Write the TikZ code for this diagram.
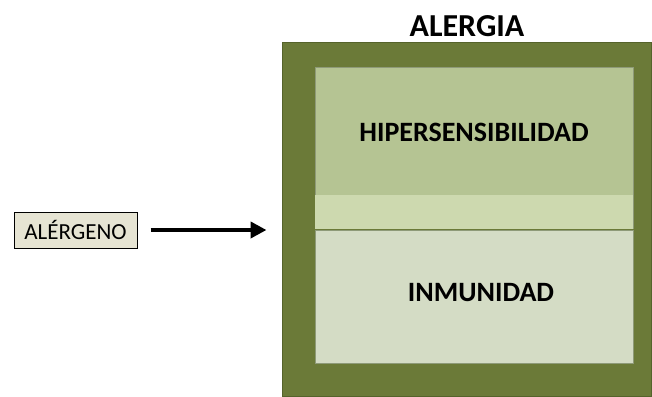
\documentclass[tikz,border=0pt]{standalone}
\usepackage{fontspec}
\setmainfont{Carlito}
\usetikzlibrary{arrows.meta}
\definecolor{outergreen}{HTML}{6B7A38}
\definecolor{outeredge}{HTML}{55632B}
\definecolor{hipfill}{HTML}{B5C493}
\definecolor{bandfill}{HTML}{CDD9AF}
\definecolor{inmfill}{HTML}{D4DCC5}
\definecolor{innerline}{HTML}{8E9A78}
\definecolor{alfill}{HTML}{E6E4D3}
\tikzset{
  outerbox/.style={draw=outeredge, line width=1pt, fill=outergreen, minimum width=369pt, minimum height=353pt, inner sep=0pt},
  innerbox/.style={draw=innerline, line width=0.8pt, minimum width=318pt, inner sep=0pt},
  title/.style={font=\bfseries\fontsize{32}{36}\selectfont},
  boxlabel/.style={font=\bfseries\fontsize{28}{32}\selectfont, text=black},
  albox/.style={draw=black, line width=1pt, fill=alfill, minimum width=123pt, minimum height=36pt, inner sep=0pt, font=\fontsize{23}{26}\selectfont},
  bigarrow/.style={line width=4.5pt, -{Triangle[length=16pt,width=16pt]}}
}
\begin{document}
\begin{tikzpicture}[x=1pt,y=-1pt]
\useasboundingbox (0,0) rectangle (652,396);
\fill[white] (0,0) rectangle (652,396);
\node[outerbox] (outer) at (466.5,219.5) {};
\node[title] (titulo) at (467,26) {ALERGIA};
\node[innerbox, fill=hipfill, minimum height=161pt] (hiper) at (474,147.5) {};
\fill[bandfill] ([xshift=0.4pt,yshift=-0.4pt]hiper.south west) rectangle ([xshift=-0.4pt,yshift=33pt]hiper.south east);
\node[boxlabel] (hiperlabel) at (474,132) {HIPERSENSIBILIDAD};
\node[innerbox, fill=inmfill, minimum height=133pt] (inmun) at (474,296.5) {};
\node[boxlabel] (inmunlabel) at (481,293) {INMUNIDAD};
\node[albox] (alergeno) at (75.5,230) {ALÉRGENO};
\draw[bigarrow, shorten <=13pt, shorten >=15pt] (alergeno.east) -- (alergeno.east -| outer.west);
\end{tikzpicture}
\end{document}
